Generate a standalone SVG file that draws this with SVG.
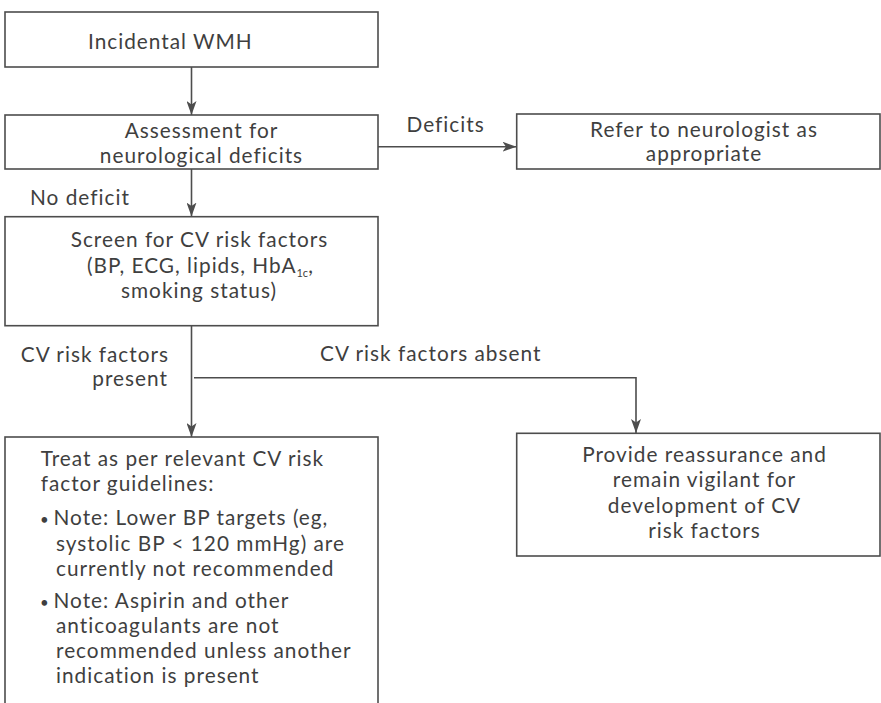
<svg xmlns="http://www.w3.org/2000/svg" width="881" height="703" viewBox="0 0 881 703">
<defs>
<style>
.box{fill:#fff;stroke:#4d4d4d;stroke-width:1.6}
.ln{fill:none;stroke:#4d4d4d;stroke-width:1.6}
text{font-family:Lato,"Open Sans","Liberation Sans",sans-serif;font-size:20.8px;letter-spacing:1px;fill:#3f3f3f}
.c{text-anchor:middle}
.r{text-anchor:end}
.b{font-size:15px}
</style>
<marker id="ah" viewBox="0 0 14 10" markerWidth="14" markerHeight="10" refX="14" refY="5" orient="auto" markerUnits="userSpaceOnUse">
<path d="M0,0 L14,5 L0,10 L3.5,5 z" fill="#4d4d4d"/>
</marker>
</defs>
<rect width="881" height="703" fill="#fff"/>
<g id="connectors">
<line class="ln" x1="191.5" y1="67" x2="191.5" y2="115" marker-end="url(#ah)"/>
<line class="ln" x1="191.5" y1="169" x2="191.5" y2="216.5" marker-end="url(#ah)"/>
<line class="ln" x1="378" y1="146.7" x2="516.5" y2="146.7" marker-end="url(#ah)"/>
<line class="ln" x1="191.5" y1="326" x2="191.5" y2="437" marker-end="url(#ah)"/>
<path class="ln" d="M194,377.7 H636 V433" marker-end="url(#ah)"/>
<text x="406.5" y="132.3">Deficits</text>
<text x="30" y="205">No deficit</text>
<text class="r" x="169" y="361.7">CV risk factors</text>
<text class="r" x="168" y="385.5">present</text>
<text x="320" y="360.7">CV risk factors absent</text>
</g>
<g id="n1">
<rect class="box" x="5" y="12" width="373" height="55"/>
<text x="88" y="49">Incidental WMH</text>
</g>
<g id="n2">
<rect class="box" x="5" y="115" width="373" height="54"/>
<text class="c" x="201.5" y="137.5">Assessment for</text>
<text class="c" x="201.5" y="162.5">neurological deficits</text>
</g>
<g id="n3">
<rect class="box" x="516.7" y="114" width="363.3" height="55"/>
<text class="c" x="704" y="136.7">Refer to neurologist as</text>
<text class="c" x="704" y="161">appropriate</text>
</g>
<g id="n4">
<rect class="box" x="5" y="216.7" width="373" height="109"/>
<text class="c" x="199.5" y="247.3">Screen for CV risk factors</text>
<text x="87" y="272.7">(BP, ECG, lipids, HbA<tspan font-size="11" letter-spacing="0" dy="4">1c</tspan><tspan dy="-4">,</tspan></text>
<text class="c" x="199" y="298.3">smoking status)</text>
</g>
<g id="n5">
<rect class="box" x="5" y="437" width="373" height="280"/>
<text x="40.7" y="465.7">Treat as per relevant CV risk</text>
<text x="40.7" y="490.7">factor guidelines:</text>
<text x="40" y="525"><tspan class="b">•</tspan><tspan x="53.5">Note: Lower BP targets (eg,</tspan></text>
<text x="56" y="551">systolic BP &lt; 120 mmHg) are</text>
<text x="56" y="576">currently not recommended</text>
<text x="40" y="607.7"><tspan class="b">•</tspan><tspan x="53.5">Note: Aspirin and other</tspan></text>
<text x="56" y="633.3">anticoagulants are not</text>
<text x="56" y="658.3">recommended unless another</text>
<text x="56" y="683.3">indication is present</text>
</g>
<g id="n6">
<rect class="box" x="516.7" y="433.3" width="363.3" height="122.7"/>
<text class="c" x="704.5" y="461.7">Provide reassurance and</text>
<text class="c" x="704.5" y="487">remain vigilant for</text>
<text class="c" x="704.5" y="512.5">development of CV</text>
<text class="c" x="704.5" y="538">risk factors</text>
</g>
</svg>
